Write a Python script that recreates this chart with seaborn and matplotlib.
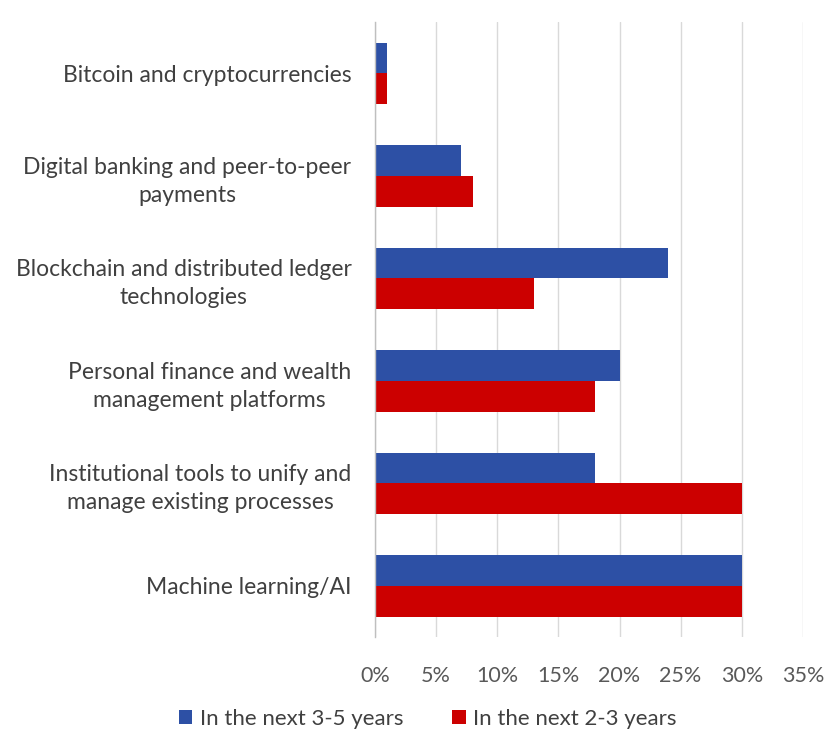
import matplotlib
matplotlib.use("Agg")
import matplotlib.pyplot as plt
import seaborn as sns
import pandas as pd
from matplotlib.ticker import FuncFormatter, FixedLocator
from matplotlib.patches import Patch

categories = [
    "Bitcoin and cryptocurrencies",
    "Digital banking and peer-to-peer\npayments",
    "Blockchain and distributed ledger\ntechnologies",
    "Personal finance and wealth\nmanagement platforms",
    "Institutional tools to unify and\nmanage existing processes",
    "Machine learning/AI",
]
series_names = ["In the next 3-5 years", "In the next 2-3 years"]
next_3_5_years = [1, 7, 24, 20, 18, 30]
next_2_3_years = [1, 8, 13, 18, 30, 30]
x_ticks = [0, 5, 10, 15, 20, 25, 30, 35]

colors = ["#2d50a5", "#cc0000"]

df = pd.DataFrame({
    "category": categories * 2,
    "series": [series_names[0]] * len(categories) + [series_names[1]] * len(categories),
    "value": next_3_5_years + next_2_3_years,
})

sns.set_theme(style="white")
plt.rcParams["font.family"] = ["Lato", "DejaVu Sans"]

fig = plt.figure(figsize=(8.26, 7.34), dpi=100)
ax = fig.add_axes([0.454, 0.132, 0.518, 0.838])

sns.barplot(
    data=df, y="category", x="value", hue="series", order=categories,
    hue_order=series_names, palette=colors, orient="h", width=0.6,
    saturation=1, ax=ax, legend=False, edgecolor="none",
)

ax.set_xlim(0, 35)
ax.set_ylim(len(categories) - 0.5, -0.5)
ax.xaxis.set_major_locator(FixedLocator(x_ticks))
ax.xaxis.set_major_formatter(FuncFormatter(lambda v, p: f"{v:.0f}%"))
ax.grid(axis="x", color="#d9d9d9", linewidth=1)
ax.set_axisbelow(True)
ax.set_xlabel("")
ax.set_ylabel("")

for side in ["top", "right", "bottom"]:
    ax.spines[side].set_visible(False)
ax.spines["left"].set_color("#bfbfbf")
ax.spines["left"].set_linewidth(1)

ax.tick_params(axis="x", length=0, pad=21, labelsize=15.5, labelcolor="#595959")
ax.tick_params(axis="y", which="major", length=0, pad=17, labelsize=16.5, labelcolor="#404040")
ax.set_yticks([i + 0.5 for i in range(-1, len(categories))], minor=True)
ax.tick_params(axis="y", which="minor", length=5, color="#bfbfbf", width=1)
for lab in ax.get_yticklabels():
    lab.set_multialignment("center")
    lab.set_linespacing(1.4)

handles = [Patch(facecolor=c, edgecolor="none") for c in colors]
fig.legend(
    handles, series_names, loc="center", bbox_to_anchor=(0.518, 0.021),
    ncol=2, frameon=False, fontsize=16, handlelength=0.6, handleheight=0.6,
    handletextpad=0.35, columnspacing=2.2, labelcolor="#404040",
    borderpad=0.1,
)

fig.savefig("out.png", dpi=100)
